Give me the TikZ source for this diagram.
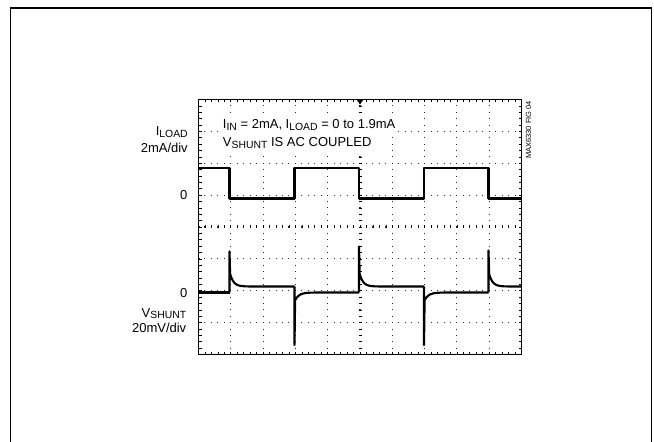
\documentclass[tikz,border=0pt]{standalone}
\usepackage{fontspec}
\setmainfont{Liberation Sans}
\usepackage{tikz}

\newcommand{\lowsub}[1]{\raisebox{-1.5pt}{\fontsize{7.8}{9}\selectfont #1}}

\begin{document}
\begin{tikzpicture} [
                x=0.75pt,
                y=-0.75pt,
                outerframe/.style = {draw,line width=1pt},
                scopebox/.style = {draw,line width=0.6pt},
                vgrid/.style = {draw,line width=0.8pt,black!85,dash pattern=on 0.7pt off 4.081pt,dash phase=0.35pt},
                hgrid/.style = {draw,line width=0.8pt,black!85,dash pattern=on 0.7pt off 4.145pt,dash phase=0.35pt},
                tick/.style = {draw,line width=0.5pt},
                wave/.style = {draw,line width=1.6pt,line join=round},
                scaletext/.style = {font=\fontsize{9.75}{11}\selectfont,inner sep=0pt},
                caption/.style = {scaletext,fill=white,inner sep=1.5pt},
                fignote/.style = {font=\fontsize{5.6}{6}\selectfont,inner sep=0pt}
            ]
        \useasboundingbox (0,0) rectangle (654,442);
        % outer frame
            \draw[outerframe] (10.3,442) -- (10.3,8) -- (651.7,8) -- (651.7,442);
        % screen and divisions
            \draw[scopebox] (198.5,99.5) rectangle (521.5,354.5);
            \foreach \i in {1,...,9}
            \draw[vgrid] ({198.5+32.3*\i},99.5) -- ({198.5+32.3*\i},354.5);
            \foreach \j in {1,...,7}
            \draw[hgrid] (198.5,{99.5+31.875*\j}) -- (521.5,{99.5+31.875*\j});
        % minor ticks on the border and the centre axes
            \foreach \k in {1,...,49} {
                \draw[tick] ({198.5+6.46*\k},99.5) -- ++(0,3);
                \draw[tick] ({198.5+6.46*\k},354.5) -- ++(0,-3);
                \draw[tick] ({198.5+6.46*\k},225.5) -- ++(0,3);
            }
            \foreach \k in {1,...,39} {
                \draw[tick] (198.5,{99.5+6.375*\k}) -- ++(3,0);
                \draw[tick] (521.5,{99.5+6.375*\k}) -- ++(-3,0);
                \draw[tick] (358.5,{99.5+6.375*\k}) -- ++(3,0);
            }
        % trigger marker
            \fill (356.5,99.5) -- (363.5,99.5) -- (360,104.5) -- cycle;
        % channel labels
            \node[scaletext,anchor=base east] (iload) at (188,135.5) {I\lowsub{LOAD}};
            \node[scaletext,anchor=base east] (iscale) at (188,152.5) {2mA/div};
            \node[scaletext,anchor=base east] (izero) at (187.5,199.5) {0};
            \node[scaletext,anchor=base east] (vzero) at (187.5,297.5) {0};
            \node[scaletext,anchor=base east] (vshunt) at (186.5,317) {V\lowsub{SHUNT}};
            \node[scaletext,anchor=base east] (vscale) at (186.5,333) {20mV/div};
        % test conditions
            \node[caption,anchor=base west] (cond) at (220.7,128.3) {I\lowsub{IN} = 2mA, I\lowsub{LOAD} = 0 to 1.9mA};
            \node[caption,anchor=base west] (coupled) at (220.7,146.7) {V\lowsub{SHUNT} IS AC COUPLED};
            \node[fignote,rotate=90] (fignum) at (528.5,130) {MAX6330 FIG 04};
        % load current
            \draw[wave] (198.5,168) -- (229.5,168) -- (229.5,198.5) -- (294.5,198.5) -- (294.5,168)
                -- (359,168) -- (359,198.5) -- (424,198.5) -- (424,168) -- (488.5,168)
                -- (488.5,198.5) -- (521.5,198.5);
        % shunt voltage
            \draw[wave] (198.5,292.5) -- (229.5,292.5);
            \foreach \xs/\pk/\len in {229.5/251.5/65, 359/246.5/65, 488.5/250.5/33}
            \draw[wave] (\xs,292.5) -- (\xs,\pk) -- plot[domain=0.6:\len,samples=40] ({\xs+\x},{286.5-15*exp(-\x/3.5)});
            \foreach \xs in {294.5,424}
            \draw[wave] (\xs,286.5) -- (\xs,345) -- plot[domain=0.6:64.5,samples=40] ({\xs+\x},{292.5+9*exp(-\x/4)});
        \end{tikzpicture}
\end{document}
